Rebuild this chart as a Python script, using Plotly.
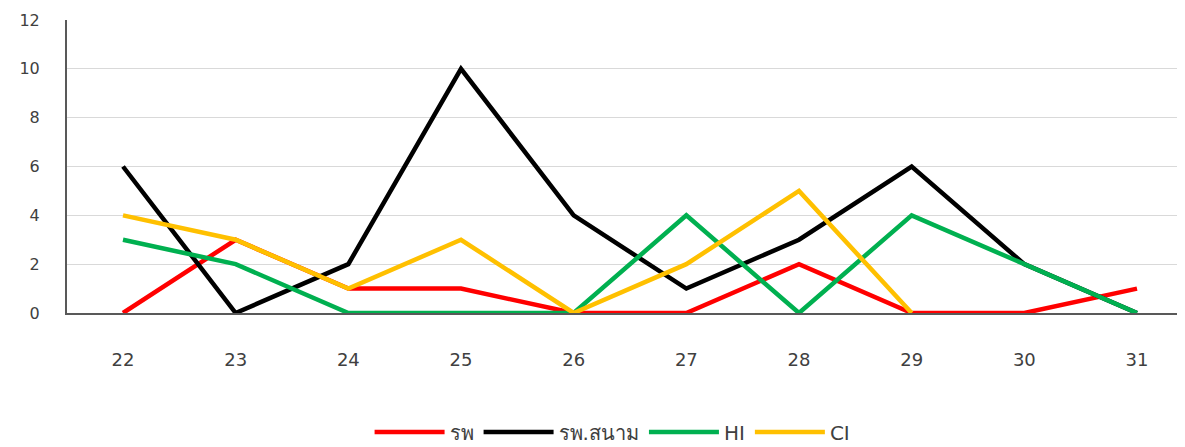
import plotly.graph_objects as go

days = ["22", "23", "24", "25", "26", "27", "28", "29", "30", "31"]
rp = [0, 3, 1, 1, 0, 0, 2, 0, 0, 1]
rp_field = [6, 0, 2, 10, 4, 1, 3, 6, 2, 0]
hi = [3, 2, 0, 0, 0, 4, 0, 4, 2, 0]
ci = [4, 3, 1, 3, 0, 2, 5, 0, None, None]

series = [
    ("รพ", rp, "#FF0000"),
    ("รพ.สนาม", rp_field, "#000000"),
    ("HI", hi, "#00B050"),
    ("CI", ci, "#FFC000"),
]

fig = go.Figure()
for name, vals, color in series:
    fig.add_trace(go.Scatter(x=days, y=vals, name=name, mode="lines",
                             line=dict(color=color, width=4.5),
                             connectgaps=False))

fig.update_layout(
    width=1177, height=439,
    margin=dict(l=59, r=0, t=12, b=134, autoexpand=False),
    paper_bgcolor="white", plot_bgcolor="white",
    font=dict(family="DejaVu Sans, Noto Sans, sans-serif", size=16, color="#404040"),
    showlegend=True,
    legend=dict(orientation="h", x=0.488, xanchor="center", y=-0.406, yanchor="middle",
                font=dict(size=20, color="#404040"), itemwidth=70, traceorder="normal"),
    xaxis=dict(type="category", range=[-0.497, 9.426], showgrid=False, automargin=False,
               showline=True, linecolor="#595959", linewidth=2,
               ticks="", ticklabelstandoff=29, tickfont=dict(size=18, color="#404040")),
    yaxis=dict(range=[0, 12], dtick=2, showgrid=True, gridcolor="#D9D9D9", gridwidth=1,
               automargin=False,
               showline=True, linecolor="#595959", linewidth=2, zeroline=False,
               ticks="", ticklabelstandoff=22, tickfont=dict(size=16, color="#404040")),
)

fig.write_html("out.html")
